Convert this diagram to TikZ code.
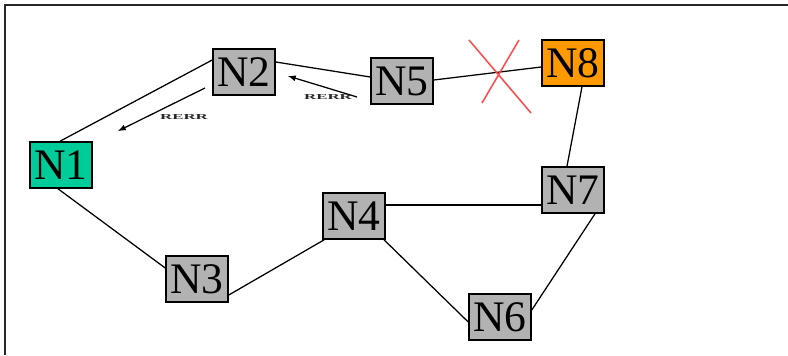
\documentclass[tikz,border=0pt]{standalone}
\usepackage{fontspec}
\setmainfont{Liberation Serif}
\usetikzlibrary{calc}
\begin{document}
\begin{tikzpicture}[x=0.025cm,y=-0.025cm,
  nd/.style={draw=black,line width=1.1pt,fill=gray!60,minimum width=1.55cm,minimum height=1.15cm,inner sep=0pt,font=\fontsize{31}{31}\selectfont},
  lnk/.style={draw=black,line width=0.9pt},
  msg/.style={font=\fontsize{6}{6}\selectfont\bfseries,text=black!85},
  arr/.style={-latex,line width=0.9pt}]
\useasboundingbox (0,0) rectangle (788,355);
\draw[line width=1.4pt,black!85] (5,355) -- (5,5) -- (788,5);
\node[nd,fill={rgb,255:red,0;green,204;blue,153}] (n1) at (61,165) {N1};
\node[nd] (n2) at (244,72) {N2};
\node[nd] (n5) at (402,81) {N5};
\node[nd,fill={rgb,255:red,255;green,153;blue,0}] (n8) at (573,63) {N8};
\node[nd] (n7) at (573,190) {N7};
\node[nd] (n4) at (354,216) {N4};
\node[nd] (n3) at (197,279) {N3};
\node[nd] (n6) at (500,317) {N6};
\draw[lnk] ($(n1.north)+(-1,0)$) -- ($(n2.west)+(0,-12)$);
\draw[lnk] ($(n1.south)+(-3,0)$) -- ($(n3.west)+(0,-11)$);
\draw[lnk] ($(n3.east)+(0,16)$) -- ($(n4.south west)+(2,0)$);
\draw[lnk] ($(n4.east)+(0,-11)$) -- ($(n7.west)+(0,15)$);
\draw[lnk] ($(n4.south)+(30,0)$) -- ($(n6.west)+(0,5)$);
\draw[lnk] ($(n6.east)+(0,-7)$) -- ($(n7.south)+(22,0)$);
\draw[lnk] ($(n7.north)+(-6,0)$) -- ($(n8.south)+(9,0)$);
\draw[lnk] ($(n2.east)+(0,-10)$) -- ($(n5.west)+(0,-4)$);
\draw[lnk] ($(n5.east)+(0,-1)$) -- ($(n8.west)+(0,4)$);
\coordinate (xa) at (469,40); \coordinate (xb) at (531,113);
\coordinate (xc) at (519,40); \coordinate (xd) at (482,103);
\draw[line width=1.1pt,red!70] (xa) -- (xb) (xc) -- (xd);
\coordinate (a1s) at (205,88); \coordinate (a1e) at (118,131);
\coordinate (a2s) at (357,97); \coordinate (a2e) at (288,76);
\draw[arr] (a1s) -- (a1e);
\draw[arr] (a2s) -- (a2e);
\node[msg] (m1) at (184,117) {\scalebox{2}[0.9]{RERR}};
\node[msg] (m2) at (328,97) {\scalebox{2}[0.9]{RERR}};
\end{tikzpicture}
\end{document}
